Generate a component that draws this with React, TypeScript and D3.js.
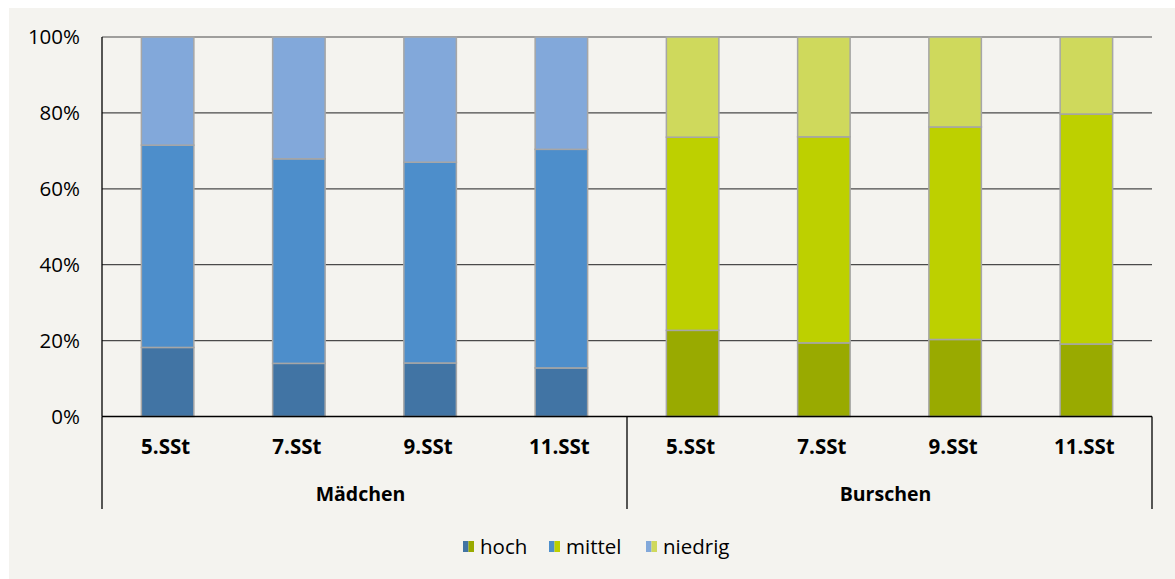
import React from "react";
import * as d3 from "d3";

// Anteile (%) je Stufe: hoch / mittel / niedrig
const stufen = ["5.SSt", "7.SSt", "9.SSt", "11.SSt"];
const gruppen = ["Mädchen", "Burschen"];
const levels = ["hoch", "mittel", "niedrig"];

const maedchenHoch = [18.2, 14.0, 14.1, 12.8];
const maedchenMittel = [53.3, 53.9, 52.9, 57.6];
const maedchenNiedrig = [28.5, 32.1, 33.0, 29.6];

const burschenHoch = [22.7, 19.4, 20.3, 19.1];
const burschenMittel = [50.9, 54.3, 56.0, 60.6];
const burschenNiedrig = [26.4, 26.3, 23.7, 20.3];

const yTicks = [0, 20, 40, 60, 80, 100];

const palette: Record<string, string[]> = {
  "Mädchen": ["#4174a4", "#4d8ecb", "#82a8da"],
  "Burschen": ["#99aa00", "#bdd000", "#cfd95c"],
};

const W = 1175;
const H = 579;
const plot = { left: 102, right: 1152, top: 37, bottom: 416.5 };
const FONT = "'Open Sans', 'Noto Sans', sans-serif";

type Row = { gruppe: string; stufe: string; hoch: number; mittel: number; niedrig: number };

const rows: Row[] = [
  ...stufen.map((s, i) => ({ gruppe: "Mädchen", stufe: s, hoch: maedchenHoch[i], mittel: maedchenMittel[i], niedrig: maedchenNiedrig[i] })),
  ...stufen.map((s, i) => ({ gruppe: "Burschen", stufe: s, hoch: burschenHoch[i], mittel: burschenMittel[i], niedrig: burschenNiedrig[i] })),
];

export default function App() {
  const keys = rows.map((r) => `${r.gruppe}|${r.stufe}`);
  const x = d3.scaleBand<string>().domain(keys).range([plot.left, plot.right]).paddingInner(0.6).paddingOuter(0.3);
  const xSlot = d3.scaleBand<string>().domain(keys).range([plot.left, plot.right]);
  const y = d3.scaleLinear().domain([0, 100]).range([plot.bottom, plot.top]);

  const stack = d3.stack<Row>().keys(levels);
  const series = stack(rows);

  const axisBottom = plot.bottom;
  const sepBottom = 509;
  const groupWidth = (plot.right - plot.left) / gruppen.length;

  // Legend: split swatch (Mädchen | Burschen colour) + label
  const legendItems = [
    { label: "hoch", x: 463, tx: 480 },
    { label: "mittel", x: 549, tx: 566 },
    { label: "niedrig", x: 646, tx: 663 },
  ];

  return (
    <svg width={W} height={H} style={{ position: "absolute", left: 0, top: 0, display: "block" }}>
      <rect x={0} y={0} width={W} height={H} fill="#ffffff" />
      <rect x={9} y={8} width={W - 9} height={H - 8} fill="#f4f3ef" />

      {/* grid lines */}
      {yTicks.filter((t) => t > 0).map((t) => (
        <line key={t} x1={plot.left} x2={plot.right} y1={y(t)} y2={y(t)} stroke="#4a4a4a" strokeWidth={1.2} />
      ))}

      {/* y tick labels */}
      {yTicks.map((t) => (
        <text key={t} x={80} y={y(t)} dy="0.36em" textAnchor="end" fontFamily={FONT} fontSize={20.5} fill="#000">
          {`${t}%`}
        </text>
      ))}

      {/* stacked bars */}
      {series.map((s, li) =>
        s.map((d, i) => {
          const r = rows[i];
          const k = keys[i];
          return (
            <rect
              key={`${li}-${k}`}
              x={x(k)!}
              y={y(d[1])}
              width={x.bandwidth()}
              height={y(d[0]) - y(d[1])}
              fill={palette[r.gruppe][li]}
              stroke="#a6a6a6"
              strokeWidth={1.5}
            />
          );
        })
      )}

      {/* axes */}
      <line x1={plot.left} x2={plot.left} y1={plot.top} y2={axisBottom} stroke="#000" strokeWidth={1.3} />
      <line x1={plot.left} x2={plot.right} y1={axisBottom} y2={axisBottom} stroke="#000" strokeWidth={1.3} />
      {[0, 1, 2].map((g) => {
        const gx = plot.left + g * groupWidth;
        return <line key={g} x1={gx} x2={gx} y1={axisBottom} y2={sepBottom} stroke="#000" strokeWidth={1.3} />;
      })}

      {/* category labels */}
      {rows.map((r, i) => (
        <text
          key={keys[i]}
          x={xSlot(keys[i])! + xSlot.bandwidth() / 2 - 2}
          y={454}
          textAnchor="middle"
          fontFamily={FONT}
          fontWeight="bold"
          fontSize={20.5}
          fill="#000"
        >
          {r.stufe}
        </text>
      ))}

      {/* group labels */}
      {gruppen.map((g, gi) => (
        <text
          key={g}
          x={plot.left + gi * groupWidth + groupWidth / 2 - 4}
          y={501}
          textAnchor="middle"
          fontFamily={FONT}
          fontWeight="bold"
          fontSize={19.5}
          fill="#000"
        >
          {g}
        </text>
      ))}

      {/* legend */}
      {legendItems.map((it, li) => (
        <g key={it.label}>
          <rect x={it.x} y={541} width={5.5} height={11} fill={palette["Mädchen"][li]} />
          <rect x={it.x + 5.5} y={541} width={5.5} height={11} fill={palette["Burschen"][li]} />
          <text x={it.tx} y={547} dy="0.36em" fontFamily={FONT} fontSize={20.5} fill="#000">
            {it.label}
          </text>
        </g>
      ))}
    </svg>
  );
}
